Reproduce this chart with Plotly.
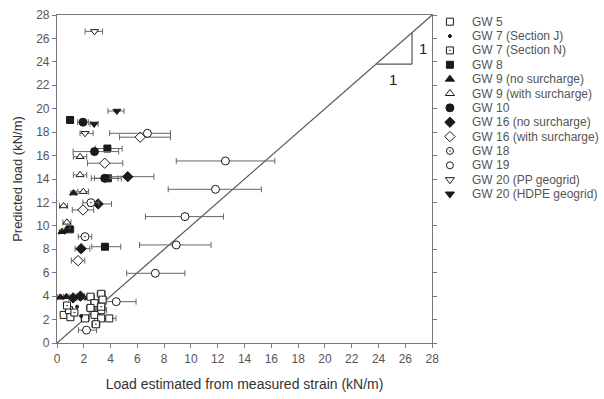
import plotly.graph_objects as go

# ---- data ----
gw5_x = [2.5, 3.3, 2.8, 3.4, 2.5, 3.3, 2.8, 3.3, 3.9, 2.1, 0.5, 0.9, 1.0]
gw5_y = [3.95, 4.2, 3.4, 3.7, 3.0, 2.8, 2.4, 2.1, 2.1, 2.1, 2.4, 2.8, 2.2]
gw5_em = [0.3, 0.3, 0.3, 0.3, 0.3, 0.4, 0.4, 0.5, 0.5, 0.3, 0.2, 0.2, 0.2]
gw5_ep = gw5_em

gw7j_x = [1.8, 1.5, 2.1]
gw7j_y = [2.3, 3.1, 3.8]

gw7n_x = [0.75, 1.3, 2.9, 3.3]
gw7n_y = [3.2, 2.6, 1.6, 3.1]
gw7n_em = [0.2, 0.2, 0.3, 0.3]

gw8_x = [0.98, 3.76, 3.8, 0.95, 3.58]
gw8_y = [19.04, 16.6, 14.06, 9.7, 8.22]
gw8_em = [0.25, 0.9, 1.0, 0.3, 0.98]
gw8_ep = [0.25, 1.1, 1.0, 0.3, 1.18]

gw9n_x = [1.23, 0.37, 0.74, 0.25, 0.7]
gw9n_y = [12.8, 9.5, 9.65, 3.9, 3.95]
gw9n_em = [0.2, 0.2, 0.2, 0.2, 0.2]

gw9s_x = [1.72, 1.72, 1.96, 0.49, 0.74]
gw9s_y = [15.9, 14.35, 12.92, 11.7, 10.3]
gw9s_em = [0.5, 0.5, 0.4, 0.3, 0.3]

gw10_x = [1.94, 2.8, 3.56]
gw10_y = [18.85, 16.34, 14.06]
gw10_em = [0.4, 1.6, 1.0]
gw10_ep = [0.4, 1.8, 1.0]

gw16n_x = [5.28, 3.07, 1.8, 1.2, 1.75]
gw16n_y = [14.2, 11.87, 8.05, 3.85, 4.0]
gw16n_em = [1.3, 0.7, 0.45, 0.3, 0.3]
gw16n_ep = [1.95, 1.0, 0.65, 0.3, 0.3]

gw16s_x = [6.21, 3.56, 1.94, 1.57]
gw16s_y = [17.57, 15.35, 11.36, 7.03]
gw16s_em = [1.54, 1.28, 0.8, 0.5]
gw16s_ep = [2.26, 1.35, 0.8, 0.5]

gw18_x = [2.53, 2.09]
gw18_y = [11.98, 9.08]
gw18_em = [0.6, 0.5]

gw19_x = [6.75, 12.57, 11.83, 9.55, 8.9, 7.34, 4.42, 2.2]
gw19_y = [17.9, 15.54, 13.12, 10.79, 8.37, 5.95, 3.53, 1.1]
gw19_em = [2.82, 3.67, 3.53, 2.95, 2.74, 2.14, 0.72, 0.6]
gw19_ep = [1.72, 3.69, 3.42, 2.88, 2.6, 2.21, 1.48, 0.75]

gw20pp_x = [2.8, 2.09]
gw20pp_y = [26.6, 17.9]
gw20pp_em = [0.7, 0.37]
gw20pp_ep = [0.6, 0.61]

gw20h_x = [4.47, 2.77]
gw20h_y = [19.8, 18.7]
gw20h_em = [0.67, 0.31]
gw20h_ep = [0.53, 0.3]

line_x = [0, 28]
line_y = [0, 28]

x_ticks = list(range(0, 29, 2))
y_ticks = list(range(0, 29, 2))

# ---- styling ----
INK = "#1a1a1a"
GREY = "#666666"
TXT = "#555555"
FONT = "Liberation Sans, Arial, sans-serif"

W, H = 604, 399
L, R, T, B = 57, 437, 15, 343      # plot box in pixels

fig = go.Figure()

fig.add_trace(go.Scatter(x=line_x, y=line_y, mode="lines",
                         line=dict(color="#555555", width=1.2),
                         showlegend=False, hoverinfo="skip"))

legend_items = []


def add(name, x, y, symbol, filled, em=None, ep=None, size=7, lsize=None):
    err = None
    if em is not None:
        err = dict(type="data", symmetric=False,
                   array=ep if ep is not None else em, arrayminus=em,
                   color=GREY, thickness=1, width=3)
    marker = dict(symbol=symbol, size=size,
                  color=INK if filled else "white",
                  line=dict(color=INK, width=1))
    fig.add_trace(go.Scatter(x=x, y=y, mode="markers", name=name,
                             marker=marker, error_x=err, showlegend=False))
    legend_items.append((name, dict(marker, size=lsize or size)))


add("GW 5", gw5_x, gw5_y, "square", False, gw5_em, gw5_ep, lsize=7)
add("GW 7 (Section J)", gw7j_x, gw7j_y, "circle", True, size=3)
add("GW 7 (Section N)", gw7n_x, gw7n_y, "square-dot", False, gw7n_em, lsize=7)
add("GW 8", gw8_x, gw8_y, "square", True, gw8_em, gw8_ep, lsize=7)
add("GW 9 (no surcharge)", gw9n_x, gw9n_y, "triangle-up", True, gw9n_em, lsize=8)
add("GW 9 (with surcharge)", gw9s_x, gw9s_y, "triangle-up", False, gw9s_em, lsize=8)
add("GW 10", gw10_x, gw10_y, "circle", True, gw10_em, gw10_ep, size=8)
add("GW 16 (no surcharge)", gw16n_x, gw16n_y, "diamond", True, gw16n_em, gw16n_ep, size=8, lsize=8)
add("GW 16 (with surcharge)", gw16s_x, gw16s_y, "diamond", False, gw16s_em, gw16s_ep, size=8, lsize=8)
add("GW 18", gw18_x, gw18_y, "circle-dot", False, gw18_em, size=8, lsize=7)
add("GW 19", gw19_x, gw19_y, "circle", False, gw19_em, gw19_ep, size=8, lsize=7)
add("GW 20 (PP geogrid)", gw20pp_x, gw20pp_y, "triangle-down", False, gw20pp_em, gw20pp_ep, lsize=8)
add("GW 20 (HDPE geogrid)", gw20h_x, gw20h_y, "triangle-down", True, gw20h_em, gw20h_ep, lsize=8)

# ---- custom compact legend on a hidden pixel-scaled axis pair ----
LEG_Y0, LEG_STEP = 21.7, 14.36
LEG_MX, LEG_TX = 455, 475
for i, (name, mk) in enumerate(legend_items):
    yy = LEG_Y0 + i * LEG_STEP
    fig.add_trace(go.Scatter(x=[LEG_MX], y=[yy], mode="markers", marker=mk,
                             xaxis="x2", yaxis="y2", showlegend=False,
                             hoverinfo="skip"))
    fig.add_annotation(x=LEG_TX, y=yy, xref="x2", yref="y2", text=name,
                       showarrow=False, xanchor="left", yanchor="middle",
                       font=dict(size=12, color=TXT, family=FONT))

# slope triangle annotation
fig.add_shape(type="line", x0=23.8, y0=23.8, x1=26.5, y1=23.8,
              line=dict(color="#555555", width=1.2))
fig.add_shape(type="line", x0=26.5, y0=23.8, x1=26.5, y1=26.5,
              line=dict(color="#555555", width=1.2))
fig.add_annotation(x=25.1, y=22.5, text="1", showarrow=False,
                   font=dict(size=15, color="#222222", family=FONT))
fig.add_annotation(x=27.3, y=25.1, text="1", showarrow=False,
                   font=dict(size=15, color="#222222", family=FONT))

axis_common = dict(
    range=[0, 28], showgrid=False, zeroline=False,
    showline=True, linecolor="#777777", linewidth=1.2,
    ticks="outside", ticklen=4, tickcolor="#777777",
    tickfont=dict(size=12, color=TXT, family=FONT),
)

pw = W - L  # paper width with r=0
fig.update_layout(
    xaxis=dict(**axis_common, tickvals=x_ticks, mirror=True,
               domain=[0, (R - L) / pw],
               title=dict(text="Load estimated from measured strain (kN/m)",
                          font=dict(size=14, color="#333333", family=FONT),
                          standoff=14)),
    yaxis=dict(**axis_common, tickvals=y_ticks, mirror="ticks",
               title=dict(text="Predicted load (kN/m)",
                          font=dict(size=13, color="#333333", family=FONT),
                          standoff=10)),
    xaxis2=dict(domain=[(R - L) / pw, 1], range=[R, W], visible=False,
                anchor="y2", fixedrange=True),
    yaxis2=dict(domain=[0, 1], range=[B, T], visible=False,
                anchor="x2", fixedrange=True),
    width=W, height=H,
    margin=dict(l=L, r=0, t=T, b=H - B),
    paper_bgcolor="white", plot_bgcolor="white",
    font=dict(family=FONT, color=TXT),
    showlegend=False,
)

fig.write_html("out.html")
